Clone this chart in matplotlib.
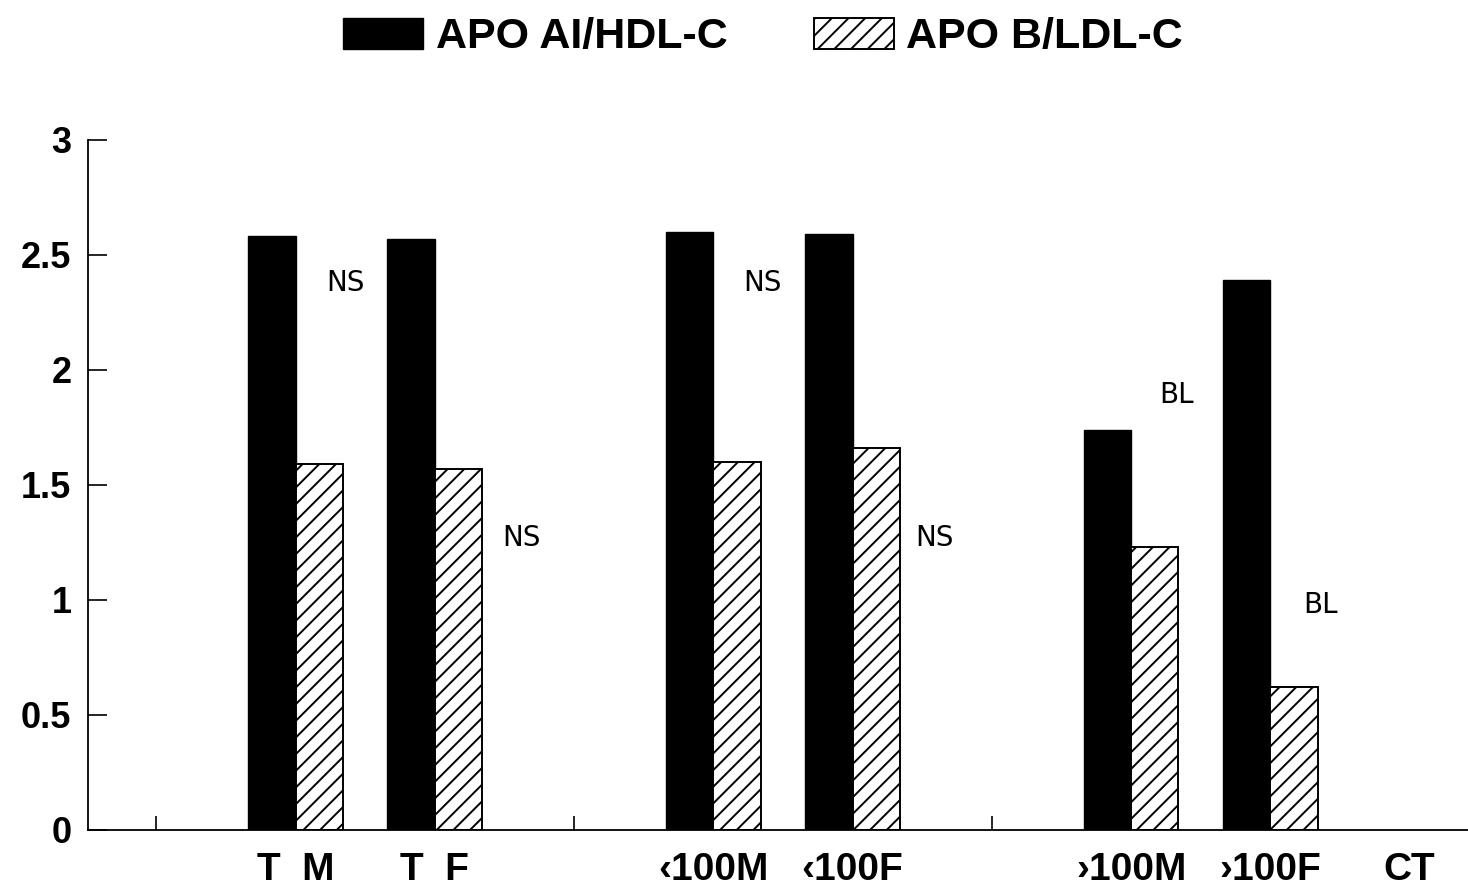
import matplotlib.pyplot as plt
import numpy as np

# group labels and slot positions (gaps between the pairs)
groups = ["T  M", "T  F", "\u2039100M", "\u2039100F", "\u203a100M", "\u203a100F", "CT"]
slots = [0, 1, 3, 4, 6, 7, 8]
apo_ai_hdl = [2.58, 2.57, 2.60, 2.59, 1.74, 2.39, 0]
apo_b_ldl = [1.59, 1.57, 1.60, 1.66, 1.23, 0.62, 0]

# significance notes: text, slot, value
notes = ["NS", "NS", "NS", "NS", "BL", "BL"]
note_x = [0.36, 1.62, 3.35, 4.59, 6.33, 7.36]
note_y = [2.38, 1.27, 2.38, 1.27, 1.89, 0.98]

plt.rcParams['hatch.linewidth'] = 1.4
fig = plt.figure(figsize=(14.68, 8.91), dpi=100)
ax = fig.add_axes([0.06, 0.0685, 0.94, 0.7745])

w = 0.34
x = np.array(slots, dtype=float)
ax.bar(x[:6] - w / 2, apo_ai_hdl[:6], w, color="black", edgecolor="black",
       label="APO AI/HDL-C")
ax.bar(x[:6] + w / 2, apo_b_ldl[:6], w, color="white", edgecolor="black",
       hatch="//", linewidth=1.4, label="APO B/LDL-C")

for t, nx, ny in zip(notes, note_x, note_y):
    ax.text(nx, ny, t, fontsize=20, family="DejaVu Sans", color="black",
            ha="center", va="center")

ax.set_xlim(-1.49, 8.42)
ax.set_ylim(0, 3)
ax.set_yticks([0, 0.5, 1, 1.5, 2, 2.5, 3])
ax.set_yticklabels(["0", "0.5", "1", "1.5", "2", "2.5", "3"])
ax.tick_params(axis="y", direction="in", length=14, width=1.2, pad=12,
               labelsize=26)
for lab in ax.get_yticklabels():
    lab.set_fontweight("bold")
    lab.set_family("Liberation Sans")

ax.set_xticks(x)
ax.set_xticklabels(groups)
ax.tick_params(axis="x", which="major", length=0, pad=16, labelsize=28)
for lab in ax.get_xticklabels():
    lab.set_fontweight("bold")
    lab.set_family("Liberation Sans")
ax.set_xticks([-1, 2, 5, 8], minor=True)
ax.tick_params(axis="x", which="minor", direction="in", length=10, width=1.2)

ax.spines["top"].set_visible(False)
ax.spines["right"].set_visible(False)
ax.spines["left"].set_linewidth(1.3)
ax.spines["bottom"].set_linewidth(1.3)

leg = fig.legend(loc="upper center", bbox_to_anchor=(0.52, 1.024), ncol=2,
                 frameon=False, handlelength=1.85, handleheight=0.75,
                 columnspacing=2.0, handletextpad=0.3,
                 prop={"family": "Liberation Sans", "weight": "bold", "size": 31})

fig.savefig("out.png", dpi=100)
